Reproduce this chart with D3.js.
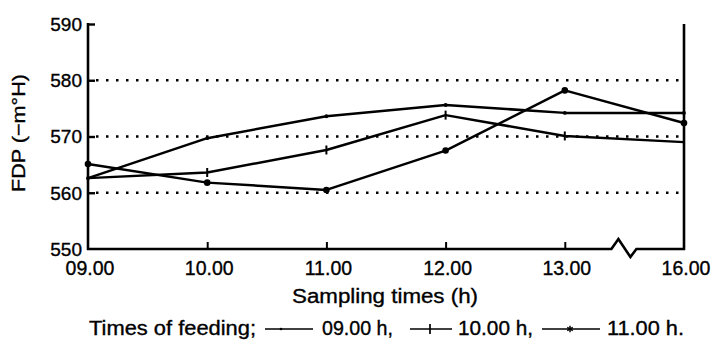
<!DOCTYPE html>
<html>
<head>
<meta charset="utf-8">
<script src="https://cdn.jsdelivr.net/npm/d3@7"></script>
<style>
  html, body { margin: 0; padding: 0; background: #fff; }
  svg { display: block; }
  text { font-family: "Liberation Sans", Arial, Helvetica, sans-serif; fill: #000; stroke: #000; stroke-width: 0.35px; }
</style>
</head>
<body>
<svg id="chart" width="713" height="340"></svg>
<script>
// ---- data ----
const categories = ["09.00", "10.00", "11.00", "12.00", "13.00", "16.00"];
const feed0900 = [562.6, 569.7, 573.6, 575.6, 574.2, 574.2];
const feed1000 = [562.6, 563.6, 567.6, 573.8, 570.1, 569.0];
const feed1100 = [565.1, 561.8, 560.5, 567.5, 578.2, 572.4];
const yTicks = [550, 560, 570, 580, 590];
const gridValues = [560, 570, 580];
const seriesNames = ["09.00 h,", "10.00 h,", "11.00 h."];
const yLabel = "FDP (\u2212m\u00B0H)";
const xLabel = "Sampling times (h)";
const legendTitle = "Times of feeding;";

(function () {
// ---- layout ----
const svg = d3.select("#chart");
const pLeft = 88, pRight = 684, pTop = 24, pBottom = 249;

const x = d3.scalePoint().domain(categories).range([pLeft, pRight]);
const y = d3.scaleLinear().domain([550, 590]).range([pBottom, pTop]);

// dotted grid lines
svg.append("g").selectAll("line").data(gridValues).join("line")
  .attr("x1", pLeft + 8).attr("x2", pRight)
  .attr("y1", d => y(d)).attr("y2", d => y(d))
  .attr("stroke", "#000").attr("stroke-width", 2.6)
  .attr("stroke-dasharray", "2.5,7.5");

// Y axis (left) with inward ticks
const yAxis = d3.axisRight(y).tickValues(yTicks).tickSize(7).tickFormat("");
const gy = svg.append("g").attr("transform", `translate(${pLeft},0)`).call(yAxis);
gy.select(".domain").remove();
gy.selectAll(".tick line").attr("stroke", "#000").attr("stroke-width", 2.4)
  .filter(d => d === 550).remove();
svg.append("line").attr("x1", pLeft).attr("x2", pLeft).attr("y1", y(590) - 1).attr("y2", pBottom + 1)
  .attr("stroke", "#000").attr("stroke-width", 2.6);

// Y tick labels
svg.append("g").selectAll("text").data(yTicks).join("text")
  .attr("x", pLeft - 6).attr("y", d => y(d)).attr("dy", "0.36em")
  .attr("text-anchor", "end").attr("font-size", 19).text(d => d);

// right axis line
svg.append("line").attr("x1", pRight).attr("x2", pRight).attr("y1", y(590)).attr("y2", pBottom + 1)
  .attr("stroke", "#000").attr("stroke-width", 2.6);

// X axis with inward ticks and break
const xAxis = d3.axisTop(x).tickSize(7).tickFormat("");
const gx = svg.append("g").attr("transform", `translate(0,${pBottom})`).call(xAxis);
gx.select(".domain").remove();
gx.selectAll(".tick line").attr("stroke", "#000").attr("stroke-width", 2)
  .filter(d => d === categories[0] || d === categories[categories.length - 1]).remove();

const bx = (x("13.00") + x("16.00")) / 2; // break position
const brk = d3.path();
brk.moveTo(pLeft - 1, pBottom);
brk.lineTo(bx - 13, pBottom);
brk.lineTo(bx - 6, pBottom - 10);
brk.lineTo(bx + 6, pBottom + 8);
brk.lineTo(bx + 12, pBottom);
brk.lineTo(pRight + 1, pBottom);
svg.append("path").attr("d", brk.toString()).attr("fill", "none")
  .attr("stroke", "#000").attr("stroke-width", 2.6).attr("stroke-linejoin", "miter");

// X tick labels
svg.append("g").selectAll("text").data(categories).join("text")
  .attr("x", d => x(d) + 2).attr("y", 275)
  .attr("text-anchor", "middle").attr("font-size", 19.5).text(d => d);

// axis titles
svg.append("text").attr("x", 385).attr("y", 303).attr("text-anchor", "middle")
  .attr("font-size", 20).attr("textLength", 186).attr("lengthAdjust", "spacingAndGlyphs").text(xLabel);
svg.append("text").attr("transform", "translate(25,133) rotate(-90)")
  .attr("text-anchor", "middle").attr("font-size", 19)
  .attr("textLength", 118).attr("lengthAdjust", "spacingAndGlyphs").text(yLabel);

// ---- series ----
const line = d3.line().x((d, i) => x(categories[i])).y(d => y(d));
const allSeries = [feed0900, feed1000, feed1100];
svg.append("g").selectAll("path").data(allSeries).join("path")
  .attr("d", d => line(d)).attr("fill", "none").attr("stroke", "#000")
  .attr("stroke-width", 2.5).attr("stroke-linejoin", "round");

// markers: small dots for 09.00, vertical bars for 10.00, big dots for 11.00
svg.append("g").selectAll("circle").data(feed0900).join("circle")
  .attr("cx", (d, i) => x(categories[i])).attr("cy", d => y(d)).attr("r", 1.9).attr("fill", "#000");
svg.append("g").selectAll("line").data(feed1000).join("line")
  .attr("x1", (d, i) => x(categories[i])).attr("x2", (d, i) => x(categories[i]))
  .attr("y1", d => y(d) - 4.5).attr("y2", d => y(d) + 4.5)
  .attr("stroke", "#000").attr("stroke-width", 2);
svg.append("g").selectAll("circle").data(feed1100).join("circle")
  .attr("cx", (d, i) => x(categories[i])).attr("cy", d => y(d)).attr("r", 3.3).attr("fill", "#000");

// ---- legend ----
const ly = 329, lb = 335;
const lg = svg.append("g");
lg.append("text").attr("x", 89).attr("y", lb).attr("font-size", 20)
  .attr("textLength", 167).attr("lengthAdjust", "spacingAndGlyphs").text(legendTitle);

const legendItems = [
  { sx1: 265, sx2: 313, mx: 281, tx: 322, tw: 71 },
  { sx1: 410, sx2: 452, mx: 430, tx: 458, tw: 75 },
  { sx1: 542, sx2: 600, mx: 570, tx: 607, tw: 77 }
];
legendItems.forEach((it, i) => {
  lg.append("line").attr("x1", it.sx1).attr("x2", it.sx2).attr("y1", ly).attr("y2", ly)
    .attr("stroke", "#000").attr("stroke-width", 1.7);
  if (i === 0) {
    lg.append("circle").attr("cx", it.mx).attr("cy", ly).attr("r", 1.3).attr("fill", "#000");
  } else if (i === 1) {
    lg.append("line").attr("x1", it.mx).attr("x2", it.mx).attr("y1", ly - 5).attr("y2", ly + 5)
      .attr("stroke", "#000").attr("stroke-width", 1.7);
  } else {
    lg.append("path").attr("d", d3.symbol(d3.symbolAsterisk, 28)()).attr("transform", `translate(${it.mx},${ly})`)
      .attr("stroke", "#000").attr("stroke-width", 1.4).attr("fill", "none");
  }
  lg.append("text").attr("x", it.tx).attr("y", lb).attr("font-size", 20)
    .attr("textLength", it.tw).attr("lengthAdjust", "spacingAndGlyphs").text(seriesNames[i]);
});
})();
</script>
</body>
</html>
